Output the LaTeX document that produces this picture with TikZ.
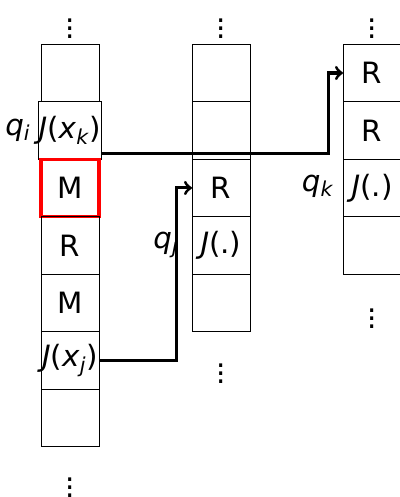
\documentclass[tikz,border=0pt]{standalone}
\usepackage{fontspec}
\setmainfont{DejaVu Sans}
\usetikzlibrary{positioning}
\newcommand{\sv}[2]{\textit{#1}\textsubscript{\textit{#2}}}
\tikzset{
  cell/.style={draw, minimum width=1.007cm, minimum height=0.998cm, inner sep=0pt, outer sep=0pt},
  hot/.style={draw=red, line width=1.5pt},
  conn/.style={->, >=to, line width=1.5pt},
  every node/.style={font=\fontsize{14.5pt}{17pt}\selectfont}
}
\begin{document}
\begin{tikzpicture}[x=0.017361cm, y=-0.017361cm]
  \useasboundingbox (0,0) rectangle (399,497);
  % first stack
  \node[cell] (a1) at (70,73) {};
  \node[cell, below=0pt of a1] (a2) {\textit{J}(\sv{x}{k})};
  \node[cell, hot, below=0pt of a2] (a3) {M};
  \node[cell, below=0pt of a3] (a4) {R};
  \node[cell, below=0pt of a4] (a5) {M};
  \node[cell, below=0pt of a5] (a6) {\textit{J}(\sv{x}{j})};
  \node[cell, below=0pt of a6] (a7) {};
  \node (adots) at (70,23) {$\vdots$};
  \node (bdots1) at (70,482) {$\vdots$};
  \node (qi) at (18,130) {\sv{q}{i}};
  % second stack
  \node[cell] (b1) at (221,73) {};
  \node[cell, below=0pt of b1] (b2) {};
  \node[cell, below=0pt of b2] (b3) {R};
  \node[cell, below=0pt of b3] (b4) {\textit{J}(.)};
  \node[cell, below=0pt of b4] (b5) {};
  \node (adots2) at (221,23) {$\vdots$};
  \node (bdots2) at (221,368) {$\vdots$};
  \node (qj) at (166,245) {\sv{q}{j}};
  % third stack
  \node[cell] (c1) at (372,73) {R};
  \node[cell, below=0pt of c1] (c2) {R};
  \node[cell, below=0pt of c2] (c3) {\textit{J}(.)};
  \node[cell, below=0pt of c3] (c4) {};
  \node (adots3) at (372,23) {$\vdots$};
  \node (bdots3) at (372,313) {$\vdots$};
  \node (qk) at (318,186) {\sv{q}{k}};
  % pointers
  \draw[conn] ([yshift=3pt]a2.south east) -| ([xshift=-7.4pt]c1.west) -- (c1.west);
  \draw[conn] (a6.east) -| ([xshift=-7.9pt]b3.west) -- (b3.west);
\end{tikzpicture}
\end{document}
